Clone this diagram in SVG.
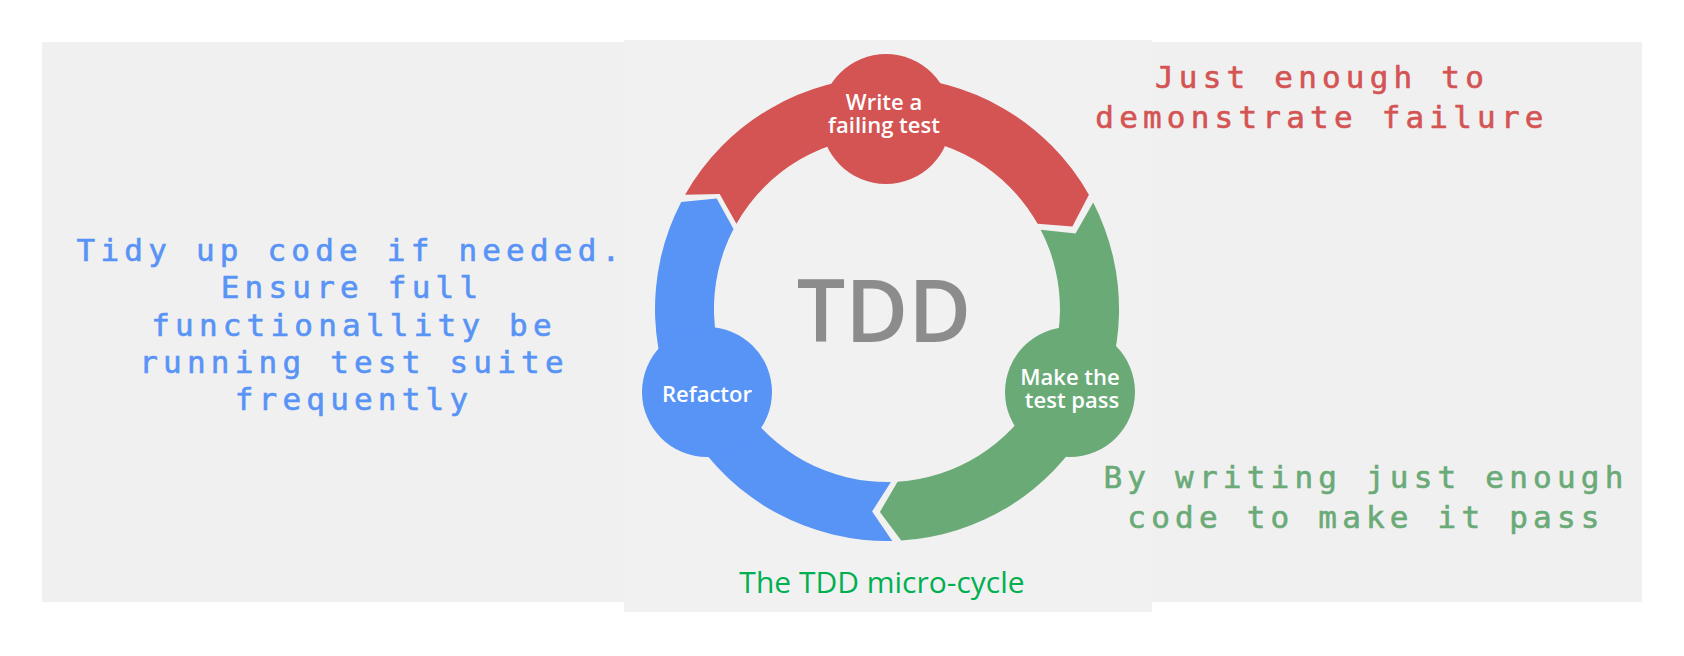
<svg xmlns="http://www.w3.org/2000/svg" width="1684" height="656" viewBox="0 0 1684 656">
<style>
.side{font-family:"DejaVu Sans Mono","Liberation Mono",monospace;font-size:31px;letter-spacing:5.2px;text-anchor:middle;stroke-width:0.6px}
.lbl{font-family:"Open Sans","Noto Sans",sans-serif;font-size:22px;font-weight:600;fill:#ffffff;text-anchor:middle}
.red{fill:#d45353}.green{fill:#6aaa77}.blue{fill:#5893f6}
.side.red{stroke:#d45353}.side.green{stroke:#6aaa77}.side.blue{stroke:#5893f6}
</style>
<rect x="0" y="0" width="1684" height="656" fill="#ffffff"/>
<rect x="42" y="42" width="1600" height="560" fill="#f0f0f0"/>
<rect x="624" y="40" width="528" height="572" fill="#f1f1f1"/>
<g id="connectors">
<path class="red" d="M685.1,194.8 A232,232 0 0 1 1088.9,194.8 L1072.4,226.4 L1037.6,223.8 A173,173 0 0 0 736.4,223.8 L719.7,194.0 Z"/>
<path class="green" d="M1093.2,202.6 A232,232 0 0 1 901.2,540.6 L879.9,511.9 L897.6,481.7 A173,173 0 0 0 1040.7,229.7 L1075.5,233.6 Z"/>
<path class="blue" d="M892.3,540.9 A232,232 0 0 1 681.2,201.9 L716.7,198.4 L733.5,229.1 A173,173 0 0 0 890.9,481.9 L872.1,511.5 Z"/>
</g>
<text x="884" y="342" font-family="Open Sans,Noto Sans,sans-serif" font-size="86" font-weight="600" fill="#8c8c8c" text-anchor="middle">TDD</text>
<g id="node-write">
<circle class="red" cx="886" cy="119" r="65"/>
<text class="lbl" x="884" y="110">Write a<tspan x="884" dy="23">failing test</tspan></text>
</g>
<g id="node-pass">
<circle class="green" cx="1070" cy="392" r="65"/>
<text class="lbl" x="1070" y="384.5">Make the<tspan x="1072" dy="23">test pass</tspan></text>
</g>
<g id="node-refactor">
<circle class="blue" cx="707" cy="392" r="65"/>
<text class="lbl" x="707" y="402">Refactor</text>
</g>
<g id="note-red">
<text class="side red" x="1322" y="88">Just enough to</text>
<text class="side red" x="1322" y="127.5">demonstrate failure</text>
</g>
<g id="note-blue">
<text class="side blue" x="351" y="261">Tidy up code if needed.</text>
<text class="side blue" x="352" y="298">Ensure full</text>
<text class="side blue" x="354" y="335.5">functionallity be</text>
<text class="side blue" x="354" y="373">running test suite</text>
<text class="side blue" x="354" y="410">frequently</text>
</g>
<g id="note-green">
<text class="side green" x="1366" y="488">By writing just enough</text>
<text class="side green" x="1366" y="527.5">code to make it pass</text>
</g>
<g id="caption">
<text x="882" y="593" font-family="Open Sans,Noto Sans,sans-serif" font-size="30" fill="#00b050" text-anchor="middle">The TDD micro-cycle</text>
</g>
</svg>
